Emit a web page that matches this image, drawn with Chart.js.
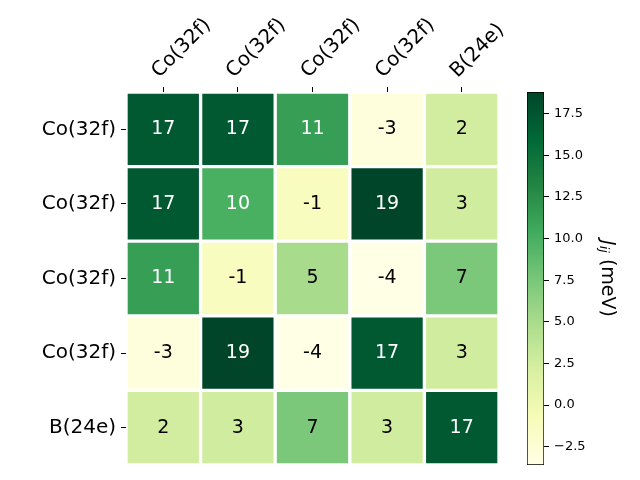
<!DOCTYPE html>
<html>
<head>
<meta charset="utf-8">
<script src="https://cdn.jsdelivr.net/npm/chart.js@4.4.0/dist/chart.umd.min.js"></script>
<style>
  body { margin: 0; background: #fff; }
  #wrap { position: relative; width: 640px; height: 480px; }
  canvas { position: absolute; left: 0; top: 0; }
</style>
</head>
<body>
<div id="wrap">
  <canvas id="heat" width="640" height="480"></canvas>
  <canvas id="cbar" width="640" height="480"></canvas>
</div>
<script>
const colLabels = ['Co(32f)', 'Co(32f)', 'Co(32f)', 'Co(32f)', 'B(24e)'];
const rowLabels = ['Co(32f)', 'Co(32f)', 'Co(32f)', 'Co(32f)', 'B(24e)'];

// J_ij values (meV), one array per row, top to bottom
const row0 = [17.2, 17.2, 11.3, -3.1, 2.4];
const row1 = [17.2, 10.0, -1.2, 18.8, 2.6];
const row2 = [11.3, -1.2, 5.0, -3.6, 7.4];
const row3 = [-3.1, 18.8, -3.6, 17.2, 2.6];
const row4 = [2.4, 2.6, 7.4, 2.6, 17.2];
const rows = [row0, row1, row2, row3, row4];

const cbarTicks = [-2.5, 0, 2.5, 5, 7.5, 10, 12.5, 15, 17.5];

const vmin = Math.min(...rows.flat());
const vmax = Math.max(...rows.flat());

// matplotlib YlGn
const ylgn = ['#ffffe5', '#f7fcb9', '#d9f0a3', '#addd8e', '#78c679', '#41ab5d', '#238443', '#006837', '#004529'];

function hexToRgb(h) {
  return [parseInt(h.slice(1, 3), 16), parseInt(h.slice(3, 5), 16), parseInt(h.slice(5, 7), 16)];
}

function cmap(v) {
  let t = (v - vmin) / (vmax - vmin);
  t = Math.max(0, Math.min(1, t));
  const pos = t * (ylgn.length - 1);
  const i = Math.min(Math.floor(pos), ylgn.length - 2);
  const f = pos - i;
  const a = hexToRgb(ylgn[i]), b = hexToRgb(ylgn[i + 1]);
  return a.map((c, k) => Math.round(c + (b[k] - c) * f));
}

function rgbStr(c) { return `rgb(${c[0]},${c[1]},${c[2]})`; }

function luminance(c) {
  const lin = c.map(x => {
    x = x / 255;
    return x <= 0.03928 ? x / 12.92 : Math.pow((x + 0.055) / 1.055, 2.4);
  });
  return 0.2126 * lin[0] + 0.7152 * lin[1] + 0.0722 * lin[2];
}

const datasets = rows.map((vals, r) => ({
  data: vals.map(() => [4 - r, 5 - r]),
  values: vals,
  backgroundColor: vals.map(v => rgbStr(cmap(v))),
  borderColor: '#fff',
  borderWidth: 2,
  borderSkipped: false,
  grouped: false,
  barPercentage: 1,
  categoryPercentage: 1
}));

// cell annotations
const annotate = {
  id: 'annotate',
  afterDatasetsDraw(chart) {
    const ctx = chart.ctx;
    ctx.save();
    ctx.font = '19px "DejaVu Sans"';
    ctx.textAlign = 'center';
    ctx.textBaseline = 'middle';
    chart.data.datasets.forEach((ds, di) => {
      chart.getDatasetMeta(di).data.forEach((bar, i) => {
        const v = ds.values[i];
        ctx.fillStyle = luminance(cmap(v)) > 0.408 ? '#000' : '#fff';
        ctx.fillText(String(Math.round(v)), bar.x, (bar.y + bar.base) / 2);
      });
    });
    ctx.restore();
  }
};

new Chart(document.getElementById('heat').getContext('2d'), {
  type: 'bar',
  data: { labels: colLabels, datasets: datasets },
  options: {
    responsive: false,
    animation: false,
    layout: { padding: { left: 0, top: 0, right: 141, bottom: 15 } },
    plugins: { legend: { display: false }, tooltip: { enabled: false } },
    scales: {
      x: {
        position: 'top',
        offset: true,
        grid: { drawOnChartArea: false, offset: false, tickLength: 5, color: '#000' },
        border: { display: false },
        ticks: {
          font: { family: 'DejaVu Sans', size: 20 },
          color: '#000',
          minRotation: 45,
          maxRotation: 45,
          padding: 4,
          labelOffset: 9
        },
        afterFit(s) { s.height = 92; s.paddingLeft = 0; s.paddingRight = 0; }
      },
      y: {
        type: 'linear',
        min: 0,
        max: 5,
        afterBuildTicks(s) { s.ticks = [0.5, 1.5, 2.5, 3.5, 4.5].map(v => ({ value: v })); },
        grid: { drawOnChartArea: false, tickLength: 5, color: '#000' },
        border: { display: false },
        ticks: {
          font: { family: 'DejaVu Sans', size: 20 },
          color: '#000',
          padding: 5,
          callback: v => rowLabels[Math.round(4.5 - v)]
        },
        afterFit(s) { s.width = 126; s.paddingTop = 0; s.paddingBottom = 0; }
      }
    }
  },
  plugins: [annotate]
});

// colorbar label: J_ij (meV), rotated
const cbarTitle = {
  id: 'cbarTitle',
  afterDraw(chart) {
    const ctx = chart.ctx;
    const big = '19px "DejaVu Sans"';
    const bigIt = 'italic 19px "DejaVu Sans"';
    const small = 'italic 13px "DejaVu Sans"';
    ctx.save();
    ctx.font = bigIt; const wJ = ctx.measureText('J').width;
    ctx.font = small; const wij = ctx.measureText('ij').width;
    ctx.font = big; const wm = ctx.measureText(' (meV)').width;
    const total = wJ + wij + wm;
    ctx.translate(607, (chart.chartArea.top + chart.chartArea.bottom) / 2);
    ctx.rotate(Math.PI / 2);
    ctx.fillStyle = '#000';
    ctx.textBaseline = 'middle';
    ctx.textAlign = 'left';
    let x = -total / 2;
    ctx.font = bigIt; ctx.fillText('J', x, 0); x += wJ;
    ctx.font = small; ctx.fillText('ij', x, 4); x += wij;
    ctx.font = big; ctx.fillText(' (meV)', x, 0);
    ctx.restore();
  }
};

new Chart(document.getElementById('cbar').getContext('2d'), {
  type: 'bar',
  data: {
    labels: [''],
    datasets: [{
      data: [[vmin, vmax]],
      backgroundColor(c) {
        const ch = c.chart;
        if (!ch.chartArea) return null;
        const y0 = ch.scales.y.getPixelForValue(vmin);
        const y1 = ch.scales.y.getPixelForValue(vmax);
        const g = ch.ctx.createLinearGradient(0, y0, 0, y1);
        ylgn.forEach((col, k) => g.addColorStop(k / (ylgn.length - 1), col));
        return g;
      },
      borderColor: '#000',
      borderWidth: 1,
      borderSkipped: false,
      barPercentage: 1,
      categoryPercentage: 1
    }]
  },
  options: {
    responsive: false,
    animation: false,
    layout: { padding: { left: 527, top: 92, right: 0, bottom: 15 } },
    plugins: { legend: { display: false }, tooltip: { enabled: false } },
    scales: {
      x: { display: false },
      y: {
        type: 'linear',
        position: 'right',
        min: vmin,
        max: vmax,
        afterBuildTicks(s) { s.ticks = cbarTicks.map(v => ({ value: v })); },
        grid: { drawOnChartArea: false, tickLength: 5, color: '#000' },
        border: { display: false },
        ticks: {
          font: { family: 'DejaVu Sans', size: 13 },
          color: '#000',
          padding: 5,
          callback: v => v.toFixed(1).replace('-', '\u2212')
        },
        afterFit(s) { s.width = 96; }
      }
    }
  },
  plugins: [cbarTitle]
});
</script>
</body>
</html>
